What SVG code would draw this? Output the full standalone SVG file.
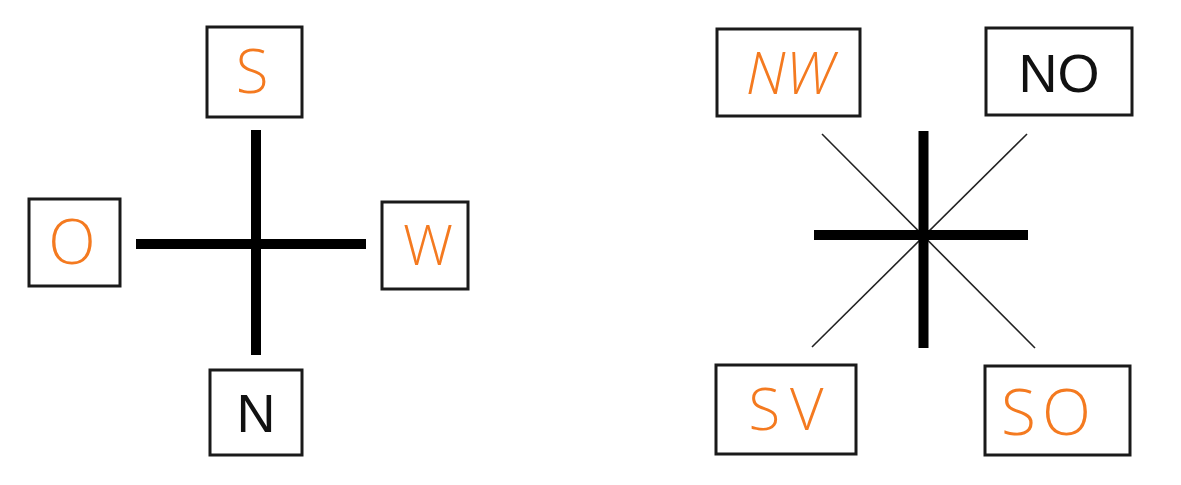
<svg xmlns="http://www.w3.org/2000/svg" width="1181" height="485" viewBox="0 0 1181 485">
<style>
.box{fill:#fff;stroke:#1a1a1a;stroke-width:3}
.hand{fill:#f47a20;font-family:"Open Sans","Lato","Liberation Sans",sans-serif;font-weight:300;text-anchor:middle}
.print{fill:#111;font-family:"Liberation Sans",Arial,sans-serif;text-anchor:middle}
.thick{stroke:#000;stroke-width:10;stroke-linecap:butt}
.thin{stroke:#222;stroke-width:1.6}
</style>
<rect width="1181" height="485" fill="#fff"/>
<g id="connectors">
<line class="thick" x1="256" y1="130" x2="256" y2="355"/>
<line class="thick" x1="136" y1="244" x2="366" y2="244"/>
<line class="thin" x1="822" y1="134" x2="1035" y2="348"/>
<line class="thin" x1="1027" y1="134" x2="812" y2="347"/>
<line class="thick" x1="923.5" y1="131" x2="923.5" y2="348"/>
<line class="thick" x1="814" y1="235" x2="1028" y2="235"/>
<circle cx="923.5" cy="235" r="6" fill="#000"/>
</g>
<g id="node-S"><rect class="box" x="207" y="27" width="95" height="90"/><text class="hand" x="252" y="93" font-size="60">S</text></g>
<g id="node-O"><rect class="box" x="29" y="199" width="91" height="87"/><text class="hand" x="72" y="264" font-size="62">O</text></g>
<g id="node-W"><rect class="box" x="382" y="202" width="86" height="87"/><text class="hand" x="428" y="265" font-size="56">W</text></g>
<g id="node-N"><rect class="box" x="210" y="370" width="92" height="85"/><text class="print" x="256" y="432" font-size="54">N</text></g>
<g id="node-NW"><rect class="box" x="717" y="29" width="143" height="87"/><text class="hand" x="790" y="94" font-size="58" font-style="italic">NW</text></g>
<g id="node-NO"><rect class="box" x="986" y="28" width="146" height="87"/><text class="print" x="1059" y="92" font-size="54">NO</text></g>
<g id="node-SV"><rect class="box" x="716" y="365" width="140" height="89"/><text class="hand" x="791" y="430" font-size="58" letter-spacing="10">SV</text></g>
<g id="node-SO"><rect class="box" x="985" y="366" width="145" height="89"/><text class="hand" x="1049" y="435" font-size="64" letter-spacing="6">SO</text></g>
</svg>
